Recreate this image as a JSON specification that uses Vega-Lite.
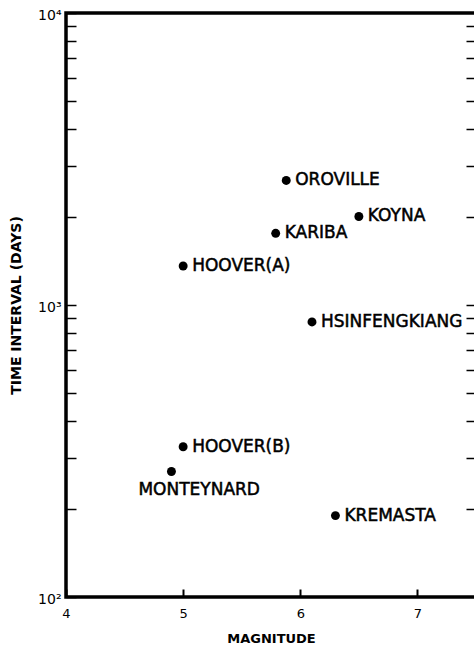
{
  "$schema": "https://vega.github.io/schema/vega-lite/v6.json",
  "width": 410,
  "height": 584,
  "autosize": {"type": "none"},
  "padding": {"left": 66, "top": 13, "right": 0, "bottom": 49},
  "background": "white",
  "config": {
    "view": {"stroke": "black", "strokeWidth": 3.5},
    "axis": {
      "grid": false,
      "domain": false,
      "tickColor": "black",
      "labelColor": "black",
      "titleColor": "black",
      "labelFont": "DejaVu Sans",
      "titleFont": "DejaVu Sans",
      "labelFlush": false,
      "labelOverlap": false
    }
  },
  "data": {
    "values": [
      {"name": "OROVILLE", "magnitude": 5.88, "days": 2670},
      {"name": "KOYNA", "magnitude": 6.5, "days": 2010},
      {"name": "KARIBA", "magnitude": 5.79, "days": 1760},
      {"name": "HOOVER(A)", "magnitude": 5.0, "days": 1360},
      {"name": "HSINFENGKIANG", "magnitude": 6.1, "days": 875},
      {"name": "HOOVER(B)", "magnitude": 5.0, "days": 327},
      {"name": "MONTEYNARD", "magnitude": 4.9, "days": 269},
      {"name": "KREMASTA", "magnitude": 6.3, "days": 190}
    ]
  },
  "layer": [
    {
      "mark": {"type": "circle", "size": 80, "color": "black", "opacity": 1},
      "encoding": {
        "x": {
          "field": "magnitude",
          "type": "quantitative",
          "scale": {"domain": [4, 7.5], "nice": false, "zero": false},
          "axis": {
            "orient": "bottom",
            "title": "MAGNITUDE",
            "values": [4, 5, 6, 7],
            "format": "d",
            "ticks": true,
            "offset": -8,
            "tickSize": 8,
            "tickWidth": 2,
            "tickColor": "black",
            "labelFontSize": 13,
            "labelBaseline": "top",
            "labelPadding": 10,
            "titleFontSize": 13,
            "titleFontWeight": "bold",
            "titleX": 205,
            "titleY": 49,
            "titleBaseline": "middle"
          }
        },
        "y": {
          "field": "days",
          "type": "quantitative",
          "scale": {"type": "log", "domain": [100, 10000], "nice": false},
          "axis": {
            "orient": "left",
            "title": "TIME INTERVAL (DAYS)",
            "values": [100, 200, 300, 400, 500, 600, 700, 800, 900, 1000, 2000, 3000, 4000, 5000, 6000, 7000, 8000, 9000, 10000],
            "labelExpr": "datum.value == 100 ? '10²' : datum.value == 1000 ? '10³' : datum.value == 10000 ? '10⁴' : ''",
            "tickSize": -10,
            "tickWidth": 1.5,
            "labelFontSize": 14,
            "labelAlign": "right",
            "labelBaseline": "alphabetic",
            "labelOffset": 6,
            "labelPadding": 15,
            "titleFontSize": 14,
            "titleFontWeight": "bold",
            "titleAngle": -90,
            "titleX": -50,
            "titleY": 292,
            "titleAlign": "center",
            "titleBaseline": "middle"
          }
        }
      }
    },
    {
      "transform": [{"filter": "datum.name != 'MONTEYNARD'"}],
      "mark": {"type": "text", "align": "left", "baseline": "middle", "dx": 9, "fontSize": 17, "font": "DejaVu Sans", "color": "black", "stroke": "black", "strokeWidth": 0.5},
      "encoding": {
        "x": {"field": "magnitude", "type": "quantitative", "scale": {"domain": [4, 7.5], "nice": false, "zero": false}, "axis": null},
        "y": {"field": "days", "type": "quantitative", "scale": {"type": "log", "domain": [100, 10000], "nice": false}, "axis": null},
        "text": {"field": "name", "type": "nominal"}
      }
    },
    {
      "transform": [{"filter": "datum.name == 'MONTEYNARD'"}],
      "mark": {"type": "text", "align": "left", "baseline": "middle", "dx": -33, "dy": 18, "fontSize": 17, "font": "DejaVu Sans", "color": "black", "stroke": "black", "strokeWidth": 0.5},
      "encoding": {
        "x": {"field": "magnitude", "type": "quantitative", "scale": {"domain": [4, 7.5], "nice": false, "zero": false}, "axis": null},
        "y": {"field": "days", "type": "quantitative", "scale": {"type": "log", "domain": [100, 10000], "nice": false}, "axis": null},
        "text": {"field": "name", "type": "nominal"}
      }
    },
    {
      "mark": {"type": "point", "opacity": 0},
      "encoding": {
        "x": {"field": "magnitude", "type": "quantitative", "scale": {"domain": [4, 7.5], "nice": false, "zero": false}, "axis": null},
        "y": {
          "field": "days",
          "type": "quantitative",
          "scale": {"type": "log", "domain": [100, 10000], "nice": false},
          "axis": {
            "orient": "right",
            "title": null,
            "labels": false,
            "values": [200, 300, 400, 500, 600, 700, 800, 900, 1000, 2000, 3000, 4000, 5000, 6000, 7000, 8000, 9000],
            "tickSize": -10,
            "tickWidth": 1.5
          }
        }
      }
    }
  ],
  "resolve": {"axis": {"y": "independent", "x": "independent"}}
}
